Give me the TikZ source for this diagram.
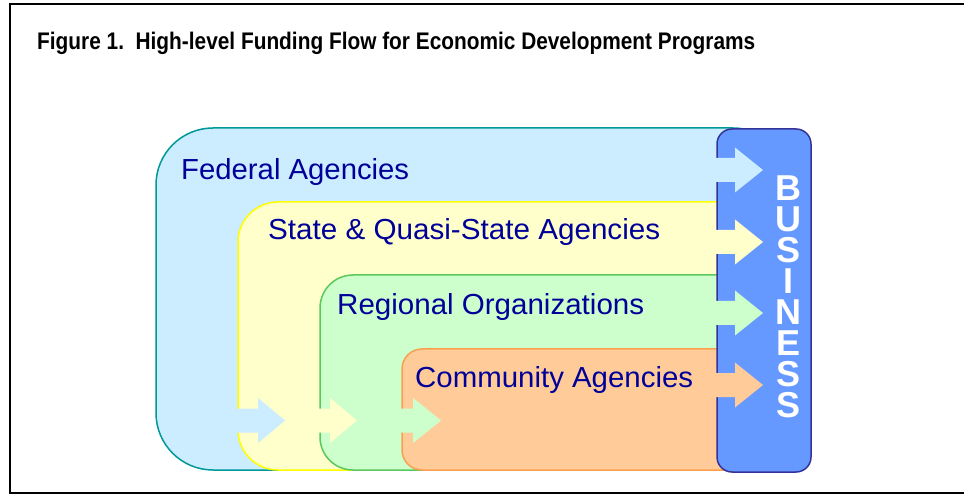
\documentclass[tikz,border=0pt]{standalone}
\usepackage{fontspec}
\setmainfont{Liberation Sans}
\usepackage{graphicx}
\definecolor{fedfill}{HTML}{CCECFF}
\definecolor{fedline}{HTML}{009999}
\definecolor{statefill}{HTML}{FFFFCC}
\definecolor{stateline}{HTML}{FFFF00}
\definecolor{regfill}{HTML}{CCFFCC}
\definecolor{regline}{HTML}{5CC85C}
\definecolor{comfill}{HTML}{FFCC99}
\definecolor{comline}{HTML}{F9A050}
\definecolor{bizfill}{HTML}{6699FF}
\definecolor{bizline}{HTML}{333399}
\definecolor{labelcol}{HTML}{000099}
\newlength\fitlen
\newcommand\fitto[2]{\settowidth\fitlen{#2}\pgfmathsetmacro\fitratio{#1/\fitlen}\scalebox{\fitratio}[1]{#2}}
\newcommand\fatarrow[5]{%
  \fill[#5] (#1,#4-12) -- (#2,#4-12) -- (#2,#4-22.5) -- (#3,#4) -- (#2,#4+22.5) -- (#2,#4+12) -- (#1,#4+12) -- cycle;}
\tikzset{
  region/.style={line width=1.5pt},
  lbl/.style={anchor=base west, inner sep=0pt, text=labelcol, font=\fontsize{29}{34}\selectfont},
  bizletters/.style={anchor=center, inner sep=0pt, align=center, text=white, font=\fontsize{36}{31}\selectfont\bfseries}
}
\begin{document}
\begin{tikzpicture}[x=1pt,y=-1pt]
\useasboundingbox (0,0) rectangle (964,494);
\fill[white] (0,0) rectangle (964,494);
\draw[line width=2.2pt] (980,4) -- (10,4) -- (10,493) -- (980,493);
\node[anchor=base west, inner sep=0pt, font=\fontsize{24}{28}\selectfont\bfseries] (title) at (37,50)
  {\fitto{718}{Figure 1.\ \ High-level Funding Flow for Economic Development Programs}};
% regions
\draw[region, draw=fedline, fill=fedfill, rounded corners=57pt] (156,128) rectangle (790,470);
\draw[region, draw=stateline, fill=statefill, rounded corners=40pt] (238,202) rectangle (790,470);
\draw[region, draw=regline, fill=regfill, rounded corners=33pt] (320,275) rectangle (790,470);
\draw[region, draw=comline, fill=comfill, rounded corners=20pt] (402,349) rectangle (790,470);
% business box
\draw[line width=1.5pt, draw=bizline, fill=bizfill, rounded corners=15pt] (717,129) rectangle (811,472);
% arrows into business
\fatarrow{700}{735}{763}{170}{fedfill}
\fatarrow{700}{735}{763}{242}{statefill}
\fatarrow{700}{735}{763}{313}{regfill}
\fatarrow{700}{735}{763}{385}{comfill}
% arrows between levels
\fatarrow{225}{258}{285}{420.5}{fedfill}
\fatarrow{300}{330}{357}{420.5}{statefill}
\fatarrow{385}{413}{441}{420.5}{regfill}
% labels
\node[lbl] (fed) at (181,180) {\fitto{228}{Federal Agencies}};
\node[lbl] (state) at (268,240) {\fitto{392}{State \& Quasi-State Agencies}};
\node[lbl] (reg) at (337,315) {\fitto{307}{Regional Organizations}};
\node[lbl] (com) at (415,387) {\fitto{278}{Community Agencies}};
% business letters
\node[bizletters] (biz) at (788,296.5) {B\\U\\S\\I\\N\\E\\S\\S};
\end{tikzpicture}
\end{document}
